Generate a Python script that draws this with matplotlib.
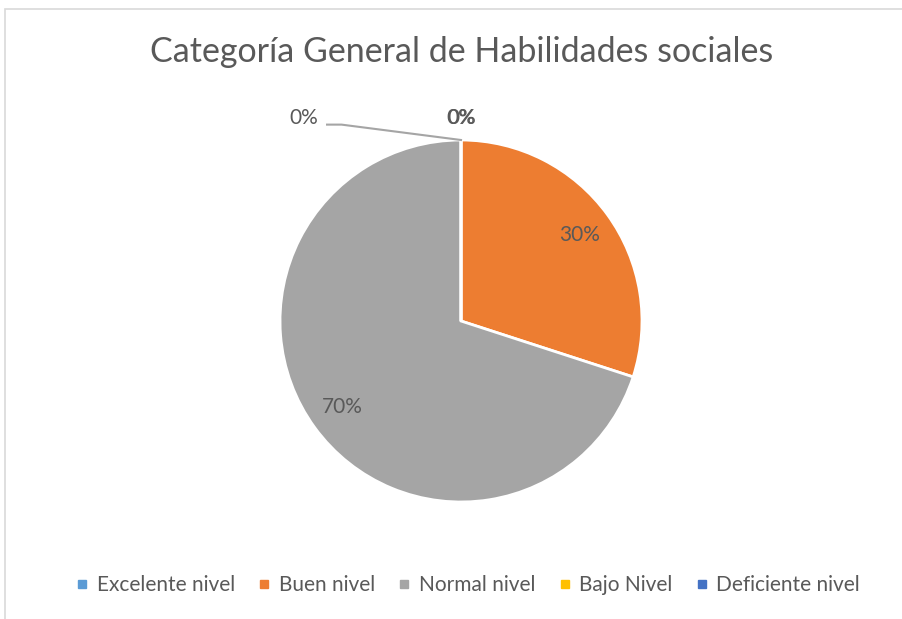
import numpy as np
import matplotlib.pyplot as plt
from matplotlib.patches import Rectangle

categories = ['Excelente nivel', 'Buen nivel', 'Normal nivel', 'Bajo Nivel', 'Deficiente nivel']
values = [0, 30, 70, 0, 0]
colors = ['#5B9BD5', '#ED7D31', '#A5A5A5', '#FFC000', '#4472C4']
title = 'Categoría General de Habilidades sociales'

plt.rcParams['font.family'] = ['Lato', 'DejaVu Sans']
text_color = '#595959'

W, H = 903, 619
fig = plt.figure(figsize=(W / 100, H / 100), dpi=100)

# chart area border
fig.patches.append(Rectangle((5 / W, -0.1), 1.1, (H - 9) / H + 0.1, transform=fig.transFigure,
                             fill=False, edgecolor='#D9D9D9', linewidth=1.2))

cx, cy, r = 461, 321, 181
ax = fig.add_axes([(cx - r) / W, (H - cy - r) / H, 2 * r / W, 2 * r / H])
wedges, _ = ax.pie(values, colors=colors, startangle=90, counterclock=False, radius=1,
                   wedgeprops=dict(edgecolor='white', linewidth=2))
ax.set_xlim(-1, 1)
ax.set_ylim(-1, 1)
ax.set_aspect('equal')
ax.axis('off')

total = sum(values)
for w, v in zip(wedges, values):
    mid = np.deg2rad((w.theta1 + w.theta2) / 2)
    if v > 0:
        ax.text(0.81 * np.cos(mid), 0.81 * np.sin(mid), f'{v / total:.0%}',
                ha='center', va='center', fontsize=15, color=text_color)

# zero-share labels stacked at the top of the pie
ax.text(0, 1.12, '0%', ha='center', va='center', fontsize=15, color=text_color)
ax.text(0.003, 1.12, '0%', ha='center', va='center', fontsize=15, color=text_color)
ax.text(-0.87, 1.12, '0%', ha='center', va='center', fontsize=15, color=text_color)
ax.plot([-0.74, -0.66, 0], [1.085, 1.085, 1.0], color='#A5A5A5', linewidth=1.5, clip_on=False)

fig.text(462 / W, 1 - 52 / H, title, ha='center', va='center', fontsize=24.5, color=text_color)

handles = [plt.Line2D([], [], marker='s', linestyle='', markersize=6, color=c) for c in colors]
fig.legend(handles, categories, loc='center', bbox_to_anchor=(468 / W, 1 - 585 / H), ncol=5,
           frameon=False, fontsize=15, labelcolor=text_color, handlelength=0.6,
           handletextpad=0.4, columnspacing=1.1)

fig.savefig('out.png', dpi=100)
